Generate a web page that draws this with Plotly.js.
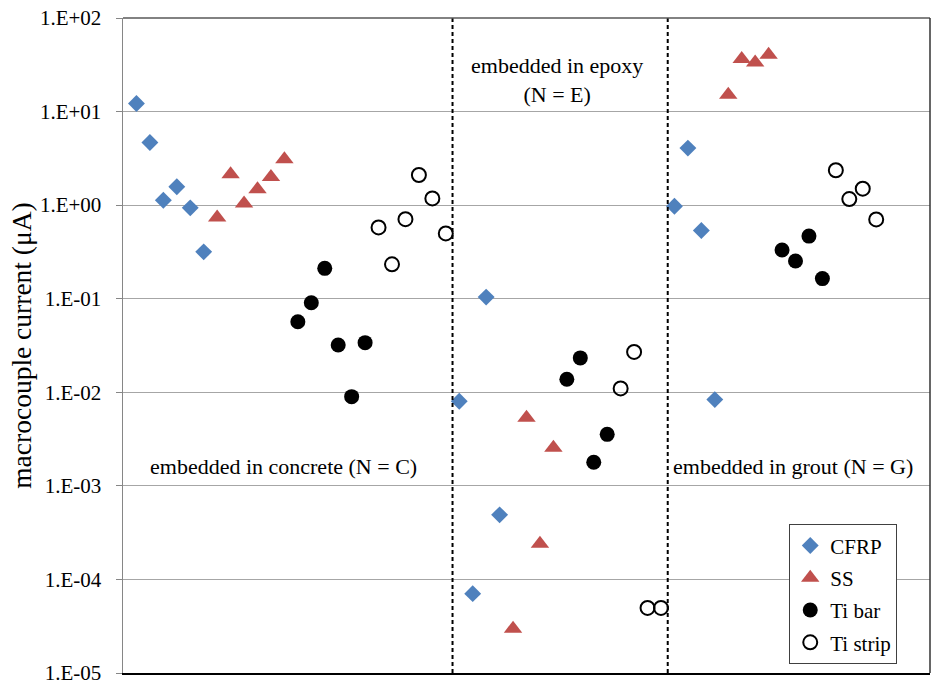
<!DOCTYPE html>
<html>
<head>
<meta charset="utf-8">
<script src="https://cdn.plot.ly/plotly-3.0.1.min.js"></script>
<style>html,body{margin:0;padding:0;background:#fff;}#chart{width:931px;height:691px;}</style>
</head>
<body>
<div id="chart"></div>
<script>
// Groups (embedding media) in plotted order
var groups = ["concrete", "epoxy", "grout"];
var materials = ["CFRP", "SS", "Ti bar", "Ti strip"];

// Macrocouple current (µA) per group and material
var concreteCFRP   = [12.2, 4.67, 1.13, 1.57, 0.935, 0.317];
var concreteSS     = [0.738, 2.14, 1.04, 1.48, 2.0, 3.1];
var concreteTiBar  = [0.0568, 0.0906, 0.211, 0.032, 0.00898, 0.0339];
var concreteTiStrip= [0.578, 0.233, 0.708, 2.10, 1.18, 0.499];

var epoxyCFRP      = [0.00803, 0.0000705, 0.104, 0.00049];
var epoxySS        = [0.0000298, 0.00533, 0.00024, 0.00255];
var epoxyTiBar     = [0.0138, 0.0233, 0.00179, 0.00355];
var epoxyTiStrip   = [0.011, 0.027, 0.0000496, 0.0000496];

var groutCFRP      = [0.973, 4.07, 0.535, 0.00835];
var groutSS        = [15.1, 36.4, 33.5, 40.4];
var groutTiBar     = [0.331, 0.253, 0.467, 0.164];
var groutTiStrip   = [2.36, 1.16, 1.50, 0.703];

var groupLabels = ["embedded in concrete (N = C)", "embedded in epoxy<br>(N = E)", "embedded in grout (N = G)"];

var tickVals  = [1e-5, 1e-4, 1e-3, 1e-2, 1e-1, 1, 10, 100];
var tickTexts = ["1.E-05", "1.E-04", "1.E-03", "1.E-02", "1.E-01", "1.E+00", "1.E+01", "1.E+02"];

var data = {
  concrete: [concreteCFRP, concreteSS, concreteTiBar, concreteTiStrip],
  epoxy:    [epoxyCFRP, epoxySS, epoxyTiBar, epoxyTiStrip],
  grout:    [groutCFRP, groutSS, groutTiBar, groutTiStrip]
};

var styles = [
  {symbol: "diamond", size: 13, color: "#4F81BD", line: {width: 0}},
  {symbol: "triangle-up", size: 16, color: "#C0504D", line: {width: 0}},
  {symbol: "circle", size: 15, color: "#000000", line: {width: 0}},
  {symbol: "circle-open", size: 14, color: "#000000", line: {width: 2, color: "#000000"}}
];

var xs = [[], [], [], []], ys = [[], [], [], []];
var idx = 0, dividers = [];
groups.forEach(function (g, gi) {
  data[g].forEach(function (vals, mi) {
    vals.forEach(function (v) { idx += 1; xs[mi].push(idx); ys[mi].push(v); });
  });
  if (gi < groups.length - 1) dividers.push(idx + 0.5);
});

var traces = materials.map(function (m, mi) {
  return {
    type: "scatter", mode: "markers", name: m, x: xs[mi], y: ys[mi],
    legendgroup: "g" + mi,
    marker: styles[mi], cliponaxis: false
  };
});

var shapes = dividers.map(function (d) {
  return {type: "line", xref: "x", yref: "paper", x0: d, x1: d, y0: 0, y1: 1,
          line: {color: "#000", width: 2, dash: "4px,3px"}};
});
shapes.push({type: "line", xref: "paper", yref: "paper", x0: 0, x1: 1, y0: 1, y1: 1, line: {color: "#595959", width: 1.5}});
shapes.push({type: "line", xref: "paper", yref: "paper", x0: 1, x1: 1, y0: 0, y1: 1, line: {color: "#333333", width: 1.5}});

var FAM = "Liberation Serif";
var font = {family: FAM, size: 22, color: "#000"};

var layout = {
  width: 931, height: 691,
  margin: {l: 123, r: 1, t: 18, b: 18},
  paper_bgcolor: "#fff", plot_bgcolor: "#fff",
  font: font,
  showlegend: true,
  xaxis: {range: [0, 60], showgrid: false, zeroline: false, showticklabels: false, ticks: "",
          showline: true, linecolor: "#000", linewidth: 1.5},
  yaxis: {type: "log", range: [-5, 2], tickvals: tickVals, ticktext: tickTexts,
          showgrid: true, gridcolor: "#A6A6A6", gridwidth: 1,
          showline: true, linecolor: "#868686", linewidth: 1.5,
          ticks: "outside", ticklen: 6, tickcolor: "#868686", ticklabelstandoff: 10,
          tickfont: {family: FAM, size: 21, color: "#000"},
          title: {text: "macrocouple current (μA)", font: {family: FAM, size: 27.5, color: "#000"}, standoff: 0}},
  legend: {x: 0.9594, xanchor: "right", y: 0.227, yanchor: "top",
           bgcolor: "#fff", bordercolor: "#404040", borderwidth: 1,
           font: {family: FAM, size: 21, color: "#000"}, tracegroupgap: 2},
  shapes: shapes,
  annotations: [
    {text: groupLabels[0], xref: "paper", yref: "paper", x: 0.1987, y: 0.316, xanchor: "center", yanchor: "middle", showarrow: false, font: font},
    {text: groupLabels[1], xref: "paper", yref: "paper", x: 0.5384, y: 0.9056, xanchor: "center", yanchor: "middle", showarrow: false, font: font},
    {text: groupLabels[2], xref: "paper", yref: "paper", x: 0.8308, y: 0.316, xanchor: "center", yanchor: "middle", showarrow: false, font: font}
  ]
};

Plotly.newPlot("chart", traces, layout, {staticPlot: true, displayModeBar: false});
</script>
</body>
</html>
